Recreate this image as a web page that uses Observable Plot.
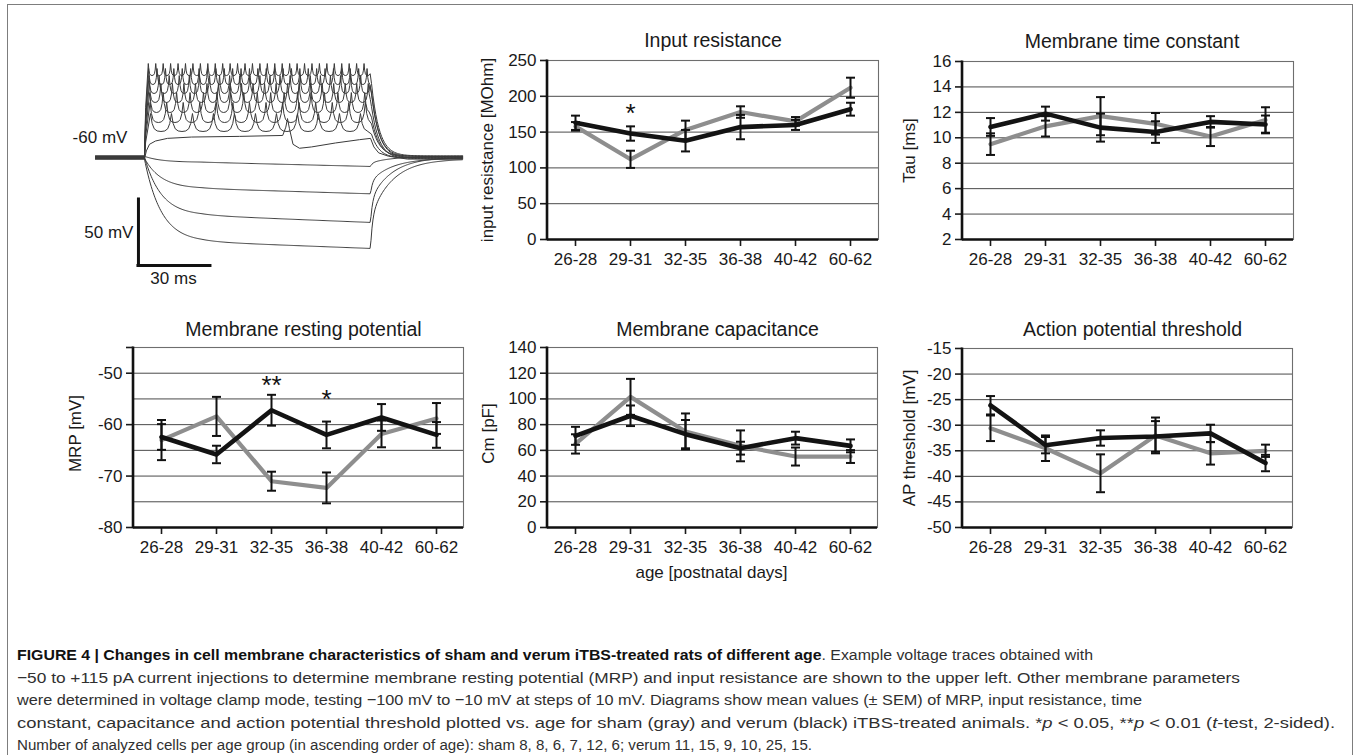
<!DOCTYPE html>
<html>
<head>
<meta charset="utf-8">
<script src="https://cdn.jsdelivr.net/npm/d3@7"></script>
<script src="https://cdn.jsdelivr.net/npm/@observablehq/plot@0.6"></script>
<style>
  body { margin: 0; background: #fff; }
  #root { position: relative; width: 1356px; height: 755px; overflow: hidden; background: #fff;
          font-family: "Liberation Sans", Arial, sans-serif; }
  #box { position: absolute; left: 7px; top: 4px; width: 1344px; height: 800px;
         border: 1.6px solid #7d7d7d; border-bottom: none; pointer-events: none; }
  #caption { position: absolute; left: 17px; top: 644px; font-size: 15.5px; line-height: 22.5px;
             color: #303030; white-space: nowrap; }
  #caption .ln { display: inline-block; transform-origin: 0 50%; }
  #caption b { color: #111; }
</style>
</head>
<body>
<div id="root">
  <div id="caption">
    <div><span class="ln"><b>FIGURE 4 | Changes in cell membrane characteristics of sham and verum iTBS-treated rats of different age</b>. Example voltage traces obtained with</span></div>
    <div><span class="ln">−50 to +115 pA current injections to determine membrane resting potential (MRP) and input resistance are shown to the upper left. Other membrane parameters</span></div>
    <div><span class="ln">were determined in voltage clamp mode, testing −100 mV to −10 mV at steps of 10 mV. Diagrams show mean values (± SEM) of MRP, input resistance, time</span></div>
    <div><span class="ln">constant, capacitance and action potential threshold plotted vs. age for sham (gray) and verum (black) iTBS-treated animals. *<i>p</i> &lt; 0.05, **<i>p</i> &lt; 0.01 (<i>t</i>-test, 2-sided).</span></div>
    <div><span class="ln">Number of analyzed cells per age group (in ascending order of age): sham 8, 8, 6, 7, 12, 6; verum 11, 15, 9, 10, 25, 15.</span></div>
  </div>
  <div id="box"></div>
</div>
<script>
// ---------------- data ----------------
const ages = ["26-28", "29-31", "32-35", "36-38", "40-42", "60-62"];

// Input resistance [MOhm]
const irSham = [158, 112, 153, 178, 165, 212];
const irShamSem = [6, 12, 13, 8, 6, 14];
const irVerum = [163, 148, 138, 157, 160, 182];
const irVerumSem = [10, 10, 15, 17, 7, 9];
const irTicks = [0, 50, 100, 150, 200, 250];
const irGrid = [50, 100, 150, 200];
const irStarAges = ["29-31"];
const irStarValues = [185];
const irStarLabels = ["*"];

// Membrane time constant, Tau [ms]
const tauSham = [9.5, 10.9, 11.7, 11.1, 10.1, 11.4];
const tauShamSem = [0.85, 0.8, 1.5, 0.85, 0.75, 1.0];
const tauVerum = [10.85, 11.9, 10.8, 10.45, 11.25, 11.05];
const tauVerumSem = [0.7, 0.55, 1.1, 0.85, 0.45, 0.7];
const tauTicks = [2, 4, 6, 8, 10, 12, 14, 16];
const tauGrid = [4, 6, 8, 10, 12, 14];

// Membrane resting potential, MRP [mV]
const mrpSham = [-63, -58.4, -71, -72.3, -61.8, -58.8];
const mrpShamSem = [3.9, 3.8, 1.85, 3, 2.6, 3];
const mrpVerum = [-62.4, -65.8, -57.2, -62, -58.6, -62];
const mrpVerumSem = [2.5, 1.7, 3, 2.6, 2.6, 2.5];
const mrpTicks = [-80, -70, -60, -50];
const mrpGrid = [-75, -70, -65, -60, -55, -50];
const mrpStarAges = ["32-35", "36-38"];
const mrpStarValues = [-51.1, -53.7];
const mrpStarLabels = ["**", "*"];

// Membrane capacitance, Cm [pF]
const cmSham = [65, 101.6, 74.7, 63.5, 55.2, 55.2];
const cmShamSem = [7.5, 14, 14, 12, 7, 5];
const cmVerum = [71.3, 86.9, 72.6, 61.7, 69.5, 63.5];
const cmVerumSem = [7, 8, 11, 5, 5, 5];
const cmTicks = [0, 20, 40, 60, 80, 100, 120, 140];
const cmGrid = [20, 40, 60, 80, 100, 120];

// Action potential threshold [mV]
const apSham = [-30.6, -34.5, -39.4, -32, -35.5, -35];
const apShamSem = [2.5, 2.5, 3.7, 3.5, 2.2, 1.2];
const apVerum = [-26.1, -33.9, -32.5, -32.2, -31.6, -37.4];
const apVerumSem = [1.8, 1.6, 1.5, 3, 1.7, 1.6];
const apTicks = [-50, -45, -40, -35, -30, -25, -20, -15];
const apGrid = [-45, -40, -35, -30, -25, -20];

// Example voltage traces
const tracePulse = [20.4, 114.6];     // ms, current step on / off
const traceSpan = [0, 153];           // ms
const restMv = -60;
const restOffsets = [0.9, -0.6, 0.4, -1.1, 1.2, -0.2, 0.7, -0.9, 0.1, 1.0, -0.4, -1.2]; // per-sweep baseline (mV)
const hyperEarly = [-63.6, -83.6, -104, -124];   // mV shortly after onset
const hyperLate = [-66.8, -87.5, -109.2, -128.9]; // mV at end of step
const spikePeak = [11.2, 7.4, 2.1, -3.9, -10.8, -18.3, -26.7];
const spikeTrough = [2.1, -4.7, -11.5, -18.3, -25.9, -33.5, -40.3];
const spikeIsi = [3.1, 3.5, 4.2, 4.8, 5.6, 6.9, 8.75];
const singleSpikeT = [0, 20.4, 21.2, 22.5, 25, 30, 40, 60, 78, 79.3, 80, 80.8, 82.3, 85, 90, 100, 110, 114.6, 116, 118, 122, 130, 153];
const singleSpikeV = [-60, -60, -55, -50, -47.5, -45.5, -44.5, -44, -43.3, -37, -30.5, -38, -50, -53, -52, -49, -46.5, -45.5, -52, -56.5, -59, -60, -60];
const scallopPhase = [0, 0.08, 0.18, 0.32, 0.5, 0.68, 0.82, 0.92];
const scallopLevel = [1, 0.45, 0.15, 0.03, 0, 0.03, 0.15, 0.45];
const scaleBarT0 = 17.9, scaleBarV0 = -141.8, scaleBarMs = 30, scaleBarMv = 50;
const traceLabels = ["-60 mV", "50 mV", "30 ms"];
const traceLabelT = [13.3, 15.8, 32.5];
const traceLabelV = [-44.8, -116.8, -151.7];
const traceLabelAnchor = ["end", "end", "middle"];

// caption line widths (px)
const captionWidths = [1076, 1223, 1125, 1318, 795];

// ---------------- helpers ----------------
const FONT = '"Liberation Sans", Arial, sans-serif';
const root = document.getElementById("root");
const fmt = d => String(d);
function place(node, left, top) {
  node.style.position = "absolute";
  node.style.left = left + "px";
  node.style.top = top + "px";
  node.style.maxWidth = "none";
  root.insertBefore(node, document.getElementById("box"));
}
function leftAxisLine() {
  return (index, scales, values, dims) =>
    d3.create("svg:line")
      .attr("x1", dims.marginLeft).attr("x2", dims.marginLeft)
      .attr("y1", dims.marginTop - 0.5).attr("y2", dims.height - dims.marginBottom + 1.2)
      .attr("stroke", "#111").attr("stroke-width", 2.6).node();
}
// horizontal cap symbol for error bars
const capSymbol = {
  draw(context, size) {
    const r = Math.sqrt(size / Math.PI);
    context.moveTo(-r, 0);
    context.lineTo(r, 0);
  }
};

function lineChart(cfg) {
  const [fl, fr, ft, fb] = cfg.frame;
  const mL = 100, mR = 20, mT = 60, mB = 70;
  const w = mL + (fr - fl) + mR, h = mT + (fb - ft) + mB;
  const rows = (vals, sems) => ages.map((a, i) => ({age: a, v: vals[i], lo: vals[i] - sems[i], hi: vals[i] + sems[i]}));
  const sh = rows(cfg.sham, cfg.shamSem), ve = rows(cfg.verum, cfg.verumSem);
  const all = sh.concat(ve);
  const marks = [
    Plot.gridY(cfg.grid, {stroke: "#4a4a4a", strokeOpacity: 1, strokeWidth: 1}),
    Plot.frame({stroke: "#6e6e6e", strokeWidth: 1.1}),
    Plot.axisY(cfg.ticks, {anchor: "left", tickSize: 7, tickPadding: 4, fontSize: 17, label: null, strokeWidth: 1.6, tickFormat: fmt}),
    Plot.axisX(ages, {anchor: "bottom", tickSize: 7, tickPadding: 6, fontSize: 17, label: null, strokeWidth: 1.6}),
    Plot.ruleY([cfg.domain[0]], {stroke: "#111", strokeWidth: 2.6}),
    leftAxisLine(),
    Plot.line(sh, {x: "age", y: "v", stroke: "#8e8e8e", strokeWidth: 4.2}),
    Plot.line(ve, {x: "age", y: "v", stroke: "#131313", strokeWidth: 4.6}),
    Plot.ruleX(all, {x: "age", y1: "lo", y2: "hi", stroke: "#111", strokeWidth: 2}),
    Plot.dot(all, {x: "age", y: "lo", symbol: capSymbol, r: 4.5, fill: "none", stroke: "#111", strokeWidth: 2}),
    Plot.dot(all, {x: "age", y: "hi", symbol: capSymbol, r: 4.5, fill: "none", stroke: "#111", strokeWidth: 2}),
    Plot.text([cfg.title], {frameAnchor: "top", dy: cfg.titleDy, dx: cfg.titleDx, fontSize: 19.5, text: d => d, fill: "#1a1a1a", textAnchor: "middle"}),
    Plot.text([cfg.yLabel], {frameAnchor: "left", rotate: -90, textAnchor: "middle", lineAnchor: "middle",
      dx: cfg.yLabelDx, dy: cfg.yLabelDy || 0, fontSize: 17, text: d => d, fill: "#1a1a1a"})
  ];
  if (cfg.extraTicks) marks.push(Plot.axisY(cfg.extraTicks, {anchor: "left", tickSize: 7, tickFormat: () => "", label: null, strokeWidth: 1.6}));
  if (cfg.starAges) {
    marks.push(Plot.text(cfg.starAges.map((a, i) => ({age: a, y: cfg.starValues[i], s: cfg.starLabels[i]})),
      {x: "age", y: "y", text: "s", fontSize: 26, dy: 7, fill: "#111"}));
  }
  if (cfg.xLabel) marks.push(Plot.text([cfg.xLabel], {frameAnchor: "bottom", dy: 50, dx: -1, fontSize: 17, text: d => d, fill: "#1a1a1a", textAnchor: "middle"}));
  const p = Plot.plot({
    width: w, height: h, marginLeft: mL, marginRight: mR, marginTop: mT, marginBottom: mB,
    x: {type: "point", domain: ages, padding: 0.5, axis: null},
    y: {domain: cfg.domain, axis: null},
    style: {fontFamily: FONT, fontSize: "17px", color: "#1a1a1a", background: "transparent", overflow: "visible"},
    marks
  });
  place(p, fl - mL, ft - mT);
}

// ---------------- charts ----------------
lineChart({frame: [547, 878, 60, 239], domain: [0, 250], ticks: irTicks, grid: irGrid,
  sham: irSham, shamSem: irShamSem, verum: irVerum, verumSem: irVerumSem,
  title: "Input resistance", titleDy: -27, titleDx: 0, yLabel: "input resistance [MOhm]", yLabelDx: -60,
  starAges: irStarAges, starValues: irStarValues, starLabels: irStarLabels});

lineChart({frame: [962, 1293, 61, 239], domain: [2, 16], ticks: tauTicks, grid: tauGrid,
  sham: tauSham, shamSem: tauShamSem, verum: tauVerum, verumSem: tauVerumSem,
  title: "Membrane time constant", titleDy: -27.5, titleDx: 4, yLabel: "Tau [ms]", yLabelDx: -53});

lineChart({frame: [133, 463, 347, 527], domain: [-80, -45], ticks: mrpTicks, grid: mrpGrid, extraTicks: [-45],
  sham: mrpSham, shamSem: mrpShamSem, verum: mrpVerum, verumSem: mrpVerumSem,
  title: "Membrane resting potential", titleDy: -25.5, titleDx: 5, yLabel: "MRP [mV]", yLabelDx: -58, yLabelDy: -4,
  starAges: mrpStarAges, starValues: mrpStarValues, starLabels: mrpStarLabels});

lineChart({frame: [547, 877, 347, 527], domain: [0, 140], ticks: cmTicks, grid: cmGrid,
  sham: cmSham, shamSem: cmShamSem, verum: cmVerum, verumSem: cmVerumSem,
  title: "Membrane capacitance", titleDy: -25.5, titleDx: 5, yLabel: "Cm [pF]", yLabelDx: -59, yLabelDy: -4,
  xLabel: "age [postnatal days]"});

lineChart({frame: [962, 1292, 348, 527], domain: [-50, -15], ticks: apTicks, grid: apGrid,
  sham: apSham, shamSem: apShamSem, verum: apVerum, verumSem: apVerumSem,
  title: "Action potential threshold", titleDy: -26.5, titleDx: 5, yLabel: "AP threshold [mV]", yLabelDx: -53});

// ---------------- voltage traces ----------------
(function () {
  const [ps, pe] = tracePulse;
  const rowsT = [];
  let sweep = 0;
  const add = (id, t, v) => rowsT.push({id, t, v});
  // hyperpolarizing sweeps
  hyperEarly.forEach((e, k) => {
    const L = hyperLate[k], id = "h" + k, r = restMv + restOffsets[sweep++];
    let vEnd = r;
    for (let t = traceSpan[0]; t <= traceSpan[1] + 1e-9; t += 0.4) {
      let v;
      if (t <= ps) v = r;
      else if (t <= pe) {
        const ss = e + (L - e) * Math.max(0, t - 44) / (pe - 44);
        v = ss + (r - ss) * Math.exp(-(t - ps) / 7);
        vEnd = v;
      } else {
        const dt = t - pe;
        v = r + (vEnd - r) * (0.35 * Math.exp(-dt / 0.8) + 0.65 * Math.exp(-dt / 9));
      }
      add(id, t, v);
    }
  });
  // spiking sweeps
  spikePeak.forEach((P, k) => {
    const T = spikeTrough[k], isi = spikeIsi[k], id = "s" + k, r = restMv + restOffsets[sweep++];
    add(id, traceSpan[0], r);
    add(id, ps, r);
    add(id, ps + 0.5, r + 0.6 * (T - r));
    let t0 = ps + 1.6 + 0.15 * k;
    add(id, t0, P);
    let vLast = P;
    while (t0 < pe) {
      for (let j = 1; j < scallopPhase.length; j++) {
        const t = t0 + scallopPhase[j] * isi;
        if (t > pe) break;
        vLast = T + scallopLevel[j] * (P - T);
        add(id, t, vLast);
      }
      t0 += isi;
      if (t0 > pe) break;
      vLast = P;
      add(id, t0, P);
    }
    for (let dt = 0.4; pe + dt <= traceSpan[1]; dt += 0.6) {
      add(id, pe + dt, r + (vLast - r) * Math.exp(-dt / 3.2));
    }
    add(id, traceSpan[1], r);
  });
  // single-spike sweep
  singleSpikeT.forEach((t, i) => add("one", t, singleSpikeV[i] + (i < 2 || i > 20 ? restOffsets[sweep] : 0)));

  const lbl = traceLabels.map((s, i) => ({s, t: traceLabelT[i], v: traceLabelV[i], a: traceLabelAnchor[i]}));
  const p = Plot.plot({
    width: 470, height: 300, margin: 0,
    x: {domain: [-39.58, 156.25], axis: null},
    y: {domain: [-168.33, 58.94], axis: null},
    style: {fontFamily: FONT, fontSize: "17px", color: "#1a1a1a", background: "transparent", overflow: "visible"},
    marks: [
      Plot.line(rowsT, {x: "t", y: "v", z: "id", stroke: "#3a3a3a", strokeWidth: 1, strokeLinejoin: "round"}),
      Plot.ruleX([scaleBarT0], {x: d => d, y1: scaleBarV0, y2: scaleBarV0 + scaleBarMv, stroke: "#111", strokeWidth: 3, strokeLinecap: "square"}),
      Plot.ruleY([scaleBarV0], {y: d => d, x1: scaleBarT0, x2: scaleBarT0 + scaleBarMs, stroke: "#111", strokeWidth: 3, strokeLinecap: "square"}),
      Plot.text(lbl.filter(d => d.a === "end"), {x: "t", y: "v", text: "s", textAnchor: "end", fontSize: 17, fill: "#1a1a1a"}),
      Plot.text(lbl.filter(d => d.a === "middle"), {x: "t", y: "v", text: "s", textAnchor: "middle", fontSize: 17, fill: "#1a1a1a"})
    ]
  });
  place(p, 0, 0);
})();

// ---------------- caption fit ----------------
(function () {
  const lns = document.querySelectorAll("#caption .ln");
  lns.forEach((el, i) => {
    const w0 = el.getBoundingClientRect().width;
    el.style.transform = "scaleX(" + (captionWidths[i] / w0) + ")";
  });
})();
</script>
</body>
</html>
